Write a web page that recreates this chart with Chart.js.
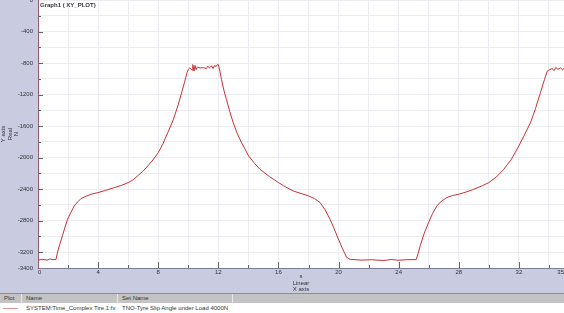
<!DOCTYPE html>
<html>
<head>
<meta charset="utf-8">
<script src="https://cdn.jsdelivr.net/npm/chart.js"></script>
<style>
  body {
    margin: 0;
    padding: 0;
    width: 564px;
    height: 313px;
    overflow: hidden;
    background: #c9cbe1;
    font-family: "Liberation Sans", Arial, sans-serif;
    color: #333;
  }
  .wrap {
    position: relative;
    width: 564px;
    height: 293px;
  }
  .graph-title {
    position: absolute;
    left: 40px;
    top: 2px;
    font-size: 6px;
    font-weight: bold;
    color: #333;
  }
  .table {
    position: absolute;
    left: 0;
    top: 293px;
    width: 564px;
    height: 20px;
    font-size: 6px;
  }
  .row {
    display: flex;
    height: 10px;
    line-height: 10px;
  }
  .head {
    background: #c3c3c3;
    border-top: 1px solid #8e8e8e;
    height: 9px;
    line-height: 9px;
  }
  .body-row {
    background: #fff;
  }
  .cell {
    box-sizing: border-box;
    padding-left: 4px;
    white-space: nowrap;
    overflow: hidden;
  }
  .head .cell {
    border-right: 1px solid #e8e8e8;
  }
  .c1 { width: 22px; }
  .c2 { width: 96px; }
  .c3 { width: 115px; }
  .c4 { flex: 1; border-right: none !important; }
  .sample {
    display: inline-block;
    width: 15px;
    height: 0;
    border-top: 1px solid #e09a9a;
    vertical-align: middle;
    margin-left: -1px;
  }
</style>
</head>
<body>
<div class="wrap">
  <canvas id="c" width="564" height="293"></canvas>
  <div class="graph-title">Graph1 ( XY_PLOT)</div>
</div>
<div class="table">
  <div class="row head">
    <div class="cell c1">Plot</div>
    <div class="cell c2">Name</div>
    <div class="cell c3">Set Name</div>
    <div class="cell c4"></div>
  </div>
  <div class="row body-row">
    <div class="cell c1"><span class="sample"></span></div>
    <div class="cell c2">SYSTEM:Time_Complex Tire.1:fx</div>
    <div class="cell c3">TNO-Tyre Slip Angle under Load 4000N</div>
    <div class="cell c4"></div>
  </div>
</div>
<script>
// time (s)
const timeS = [
  0, 0.3, 0.6, 0.8, 1.0, 1.2,
  1.3, 1.45, 1.63, 1.8, 1.97, 2.2, 2.41, 2.65, 2.86, 3.2, 3.52, 4.0, 4.5, 5.08, 5.5,
  6.0, 6.3, 6.63, 7.0, 7.3, 7.65, 8.0, 8.3, 8.63, 9.0, 9.3, 9.55, 9.74, 9.9, 10.0,
  10.1, 10.25, 10.3, 10.38, 10.45, 10.52, 10.6, 10.8, 11.0, 11.2, 11.3, 11.4, 11.55,
  11.65, 11.75, 11.85, 11.95, 12.0,
  12.1, 12.21, 12.35, 12.54, 12.75, 12.99, 13.25, 13.54, 13.8, 14.01, 14.4, 14.77,
  15.4, 16.01, 16.5, 16.99, 17.5, 18.01, 18.4, 18.77, 19.1, 19.43, 19.7, 19.99,
  20.25, 20.54, 20.77,
  21.5, 22.2, 23.0, 23.5, 24.0, 24.5, 25.17,
  25.3, 25.43, 25.7, 25.99, 26.25, 26.54, 26.85, 27.21, 27.6, 27.99, 28.5, 28.99,
  29.5, 29.99, 30.5, 30.99, 31.5, 31.99, 32.4, 32.77, 33.1, 33.43, 33.7, 33.88, 34.05,
  34.2, 34.35, 34.45, 34.6, 34.75, 34.9, 35.0
];
// force (N)
const forceN = [
  -3300, -3290, -3300, -3285, -3295, -3290,
  -3200, -3100, -2990, -2880, -2780, -2690, -2613, -2560, -2520, -2490, -2465, -2443, -2415, -2380, -2355,
  -2317, -2285, -2232, -2170, -2106, -2030, -1937, -1830, -1684, -1520, -1346, -1180, -1051, -930, -880,
  -862, -890, -820, -900, -830, -885, -850, -862, -858, -870, -840, -862, -835,
  -870, -830, -845, -815, -820,
  -900, -1009, -1130, -1262, -1410, -1557, -1690, -1810, -1900, -1979, -2070, -2148,
  -2240, -2317, -2375, -2423, -2455, -2486, -2520, -2570, -2660, -2781, -2900, -3034,
  -3150, -3266, -3290,
  -3300, -3295, -3305, -3292, -3302, -3295, -3293,
  -3210, -3119, -2960, -2823, -2710, -2613, -2550, -2506, -2480, -2465, -2435, -2401,
  -2362, -2317, -2245, -2148, -2020, -1853, -1700, -1557, -1380, -1177, -1010, -903, -882,
  -870, -895, -855, -880, -860, -885, -870
];

const xTicks = [0, 2, 4, 6, 8, 10, 12, 14, 16, 18, 20, 22, 24, 26, 28, 30, 32, 34, 35];
const xLabels = [0, 4, 8, 12, 16, 20, 24, 28, 32, 35];
const yTicks = [0, -200, -400, -600, -800, -1000, -1200, -1400, -1600, -1800, -2000,
  -2200, -2400, -2600, -2800, -3000, -3200, -3400];
const yLabels = [0, -400, -800, -1200, -1600, -2000, -2400, -2800, -3200, -3400];

const fontFamily = '"Liberation Sans", Arial, sans-serif';

// white plot area
const plotBg = {
  id: 'plotBg',
  beforeDraw(chart) {
    const { ctx, chartArea: a } = chart;
    ctx.save();
    ctx.fillStyle = '#ffffff';
    ctx.fillRect(a.left, a.top, a.right - a.left, a.bottom - a.top);
    ctx.restore();
  }
};

// tick marks drawn inside the plot
const innerTicks = {
  id: 'innerTicks',
  afterDatasetsDraw(chart) {
    const { ctx, chartArea: a, scales: { x, y } } = chart;
    ctx.save();
    ctx.strokeStyle = '#666';
    ctx.lineWidth = 1;
    ctx.beginPath();
    x.ticks.forEach((t) => {
      if (t.value === 35 || t.value === 0) return;
      const px = Math.round(x.getPixelForValue(t.value)) + 0.5;
      const len = t.value % 4 === 0 ? 6 : 3;
      ctx.moveTo(px, a.bottom);
      ctx.lineTo(px, a.bottom - len);
    });
    y.ticks.forEach((t) => {
      if (t.value === 0 || t.value === -3400) return;
      const py = Math.round(y.getPixelForValue(t.value)) + 0.5;
      const len = t.value % 400 === 0 ? 5 : 3;
      ctx.moveTo(a.left, py);
      ctx.lineTo(a.left + len, py);
    });
    ctx.stroke();
    ctx.restore();
  }
};

new Chart(document.getElementById('c').getContext('2d'), {
  type: 'line',
  data: {
    datasets: [{
      label: 'SYSTEM:Time_Complex Tire.1:fx',
      data: timeS.map((t, i) => ({ x: t, y: forceN[i] })),
      borderColor: '#c93232',
      borderWidth: 1,
      pointRadius: 0,
      tension: 0,
      fill: false,
    }],
  },
  options: {
    responsive: false,
    animation: false,
    devicePixelRatio: 1,
    layout: { padding: 0 },
    plugins: {
      legend: { display: false },
      tooltip: { enabled: false },
    },
    scales: {
      x: {
        type: 'linear',
        min: 0,
        max: 35,
        afterBuildTicks: (s) => { s.ticks = xTicks.map((v) => ({ value: v })); },
        afterFit: (s) => {
          s.height = 25;
          s.paddingLeft = 0;
          s.paddingRight = 0;
        },
        grid: { color: '#ececf2', drawTicks: false },
        border: { color: '#7c7c92' },
        ticks: {
          autoSkip: false,
          maxRotation: 0,
          padding: 1,
          align: 'inner',
          color: '#333',
          font: { size: 6, family: fontFamily },
          callback: (v) => (xLabels.includes(v) ? String(v) : ''),
        },
        title: {
          display: true,
          text: ['s', 'Linear', 'X axis'],
          color: '#333',
          padding: 0,
          font: { size: 6, family: fontFamily, lineHeight: 1.1 },
        },
      },
      y: {
        min: -3400,
        max: 0,
        afterBuildTicks: (s) => { s.ticks = yTicks.map((v) => ({ value: v })); },
        afterFit: (s) => {
          s.width = 38;
          s.paddingTop = 0;
          s.paddingBottom = 0;
        },
        grid: { color: '#ececf2', drawTicks: false },
        border: { color: '#9a5c6c' },
        ticks: {
          autoSkip: false,
          padding: 5,
          color: '#333',
          font: { size: 6, family: fontFamily },
          callback: (v) => (yLabels.includes(v) ? String(v) : ''),
        },
        title: {
          display: true,
          text: ['Y axis', 'Real', 'N'],
          color: '#333',
          padding: 0,
          font: { size: 6, family: fontFamily, lineHeight: 1.1 },
        },
      },
    },
  },
  plugins: [plotBg, innerTicks],
});
</script>
</body>
</html>
